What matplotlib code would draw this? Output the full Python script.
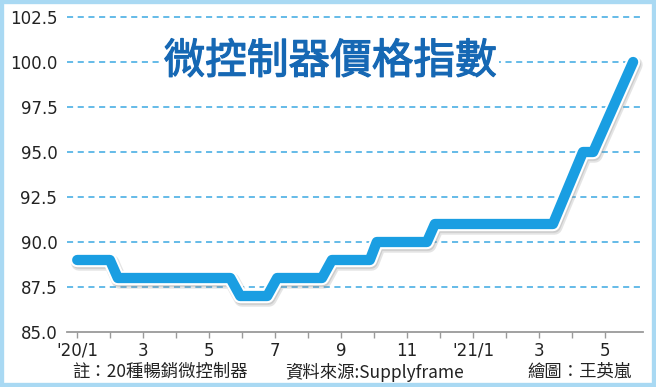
import numpy as np
import matplotlib
matplotlib.use("Agg")
import matplotlib.pyplot as plt
import matplotlib.patheffects as pe
from matplotlib.patches import Rectangle

# ========================================================= #
# ===  data                                             === #
# ========================================================= #
months = [ 0.0, 0.99, 1.23, 4.64, 4.94, 5.76, 6.06, 7.42, 7.72,
           8.87, 9.08, 10.60, 10.84, 14.42, 15.33, 15.64, 16.85 ]
values = [ 89, 89, 88, 88, 87, 87, 88, 88, 89,
           89, 90, 90, 91, 91, 95, 95, 100 ]

xtick_pos    = list( range( 0, 17 ) )
xtick_labels = [ "'20/1", "", "3", "", "5", "", "7", "", "9", "", "11", "",
                 "'21/1", "", "3", "", "5" ]
ytick_pos    = [ 85.0, 87.5, 90.0, 92.5, 95.0, 97.5, 100.0, 102.5 ]

title   = "微控制器價格指數"
note    = "註：20種暢銷微控制器"
source  = "資料來源:Supplyframe"
drawer  = "繪圖：王英嵐"

cjk     = [ "Noto Sans CJK TC", "DejaVu Sans" ]
c_line  = "#1a9ee2"
c_grid  = "#3aa8e2"
c_title = "#1668b4"
c_frame = "#a9d9f3"

# ========================================================= #
# ===  figure                                           === #
# ========================================================= #
W, H = 656, 387
fig = plt.figure( figsize=( W/100, H/100 ), dpi=100 )
fig.patch.set_facecolor( "white" )

ax = fig.add_axes( [ 67/W, 1-332/H, (643-67)/W, (332-17)/H ] )
ax.set_xlim( -0.31, 17.15 )
ax.set_ylim( 85.0, 102.5 )

# --- grid lines --- #
for yv in ytick_pos[1:]:
    ax.axhline( yv, color=c_grid, lw=1.1, ls=(0, (4.0, 3.0)), zorder=1, clip_on=False )

# --- main line (white rim + soft shadow) --- #
lw = 7.4
ax.plot( months, values, color=c_line, lw=lw, zorder=3,
         solid_joinstyle="round", solid_capstyle="round",
         path_effects=[ pe.SimpleLineShadow( offset=(1.2, -2.0), shadow_color="#888888",
                                             alpha=0.22, linewidth=lw+4.0 ),
                        pe.SimpleLineShadow( offset=(0.8, -1.4), shadow_color="#888888",
                                             alpha=0.25, linewidth=lw+2.5 ),
                        pe.Stroke( linewidth=lw+3.0, foreground="white" ),
                        pe.Normal() ] )

# --- axes --- #
for s in [ "top", "right", "left" ]:
    ax.spines[s].set_visible( False )
ax.spines["bottom"].set_color( "#9a9a9a" )
ax.spines["bottom"].set_linewidth( 1.3 )
ax.set_xticks( xtick_pos )
ax.set_xticklabels( xtick_labels, fontsize=12, color="#222222" )
ax.set_yticks( ytick_pos )
ax.set_yticklabels( [ "%.1f" % v for v in ytick_pos ], fontsize=12, color="#222222" )
ax.tick_params( axis="x", length=4, width=1.0, color="#9a9a9a", pad=3 )
ax.tick_params( axis="y", length=0, pad=7 )

# --- title --- #
fig.text( 330/W, 1-62/H, title, fontsize=30, fontweight="medium", color=c_title,
          family=cjk, ha="center", va="center", zorder=5,
          path_effects=[ pe.Stroke( linewidth=0.9, foreground=c_title ), pe.Normal() ],
          bbox=dict( facecolor="white", edgecolor="none", pad=2 ) )

# --- footer --- #
fig.text(  72/W, 1-372/H, note,   fontsize=12.5, family=cjk, color="#222222", ha="left", va="center" )
fig.text( 285/W, 1-372/H, source, fontsize=12.5, family=cjk, color="#222222", ha="left", va="center" )
fig.text( 632/W, 1-372/H, drawer, fontsize=12.5, family=cjk, color="#222222", ha="right", va="center" )

# --- frame --- #
fig.patches.append( Rectangle( (0, 0), 1, 1, transform=fig.transFigure, fill=False,
                               edgecolor=c_frame, linewidth=6, zorder=10 ) )

fig.savefig( "out.png", dpi=100 )
